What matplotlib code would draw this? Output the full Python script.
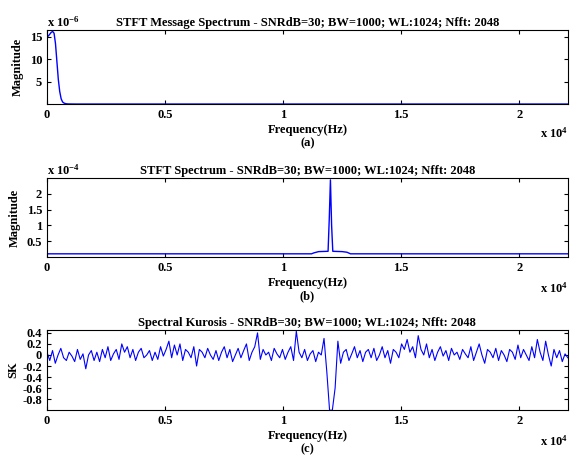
import numpy as np
import matplotlib.pyplot as plt

plt.rcParams['font.family'] = ['Liberation Serif', 'DejaVu Serif']
plt.rcParams['font.weight'] = 'bold'
plt.rcParams['mathtext.default'] = 'regular'

# (a) message spectrum, Hz and magnitude (x 1e-6)
msg_f = [0, 60, 120, 180, 240, 300, 360, 420, 480, 540, 600, 660, 720, 800, 900, 1200, 5000, 22050]
msg_m = [15.0, 15.2, 15.6, 16.0, 16.2, 15.8, 13.5, 9.5, 5.5, 2.8,
         1.2, 0.5, 0.25, 0.1, 0.05, 0.03, 0.03, 0.03]

# (b) STFT spectrum (x 1e-4)
sp_f = [0, 11200, 11300, 11500, 11900, 11950, 12000, 12050, 12100, 12500, 12700, 12850, 22050]
sp_m = [0.1, 0.1, 0.13, 0.17, 0.18, 1.2, 2.45, 1.0, 0.18, 0.17, 0.15, 0.1, 0.1]

# (c) spectral kurtosis (sampled)
sk_vals = [0.05, -0.1, 0.08, -0.15, 0.0, 0.12, -0.05, -0.1, 0.05, -0.02, -0.12, 0.1, -0.08, 0.02, -0.25, 0.0,
           0.08, -0.1, 0.05, -0.12, 0.1, -0.05, 0.15, -0.1, 0.02, 0.1, -0.08, 0.2, 0.05, 0.15, -0.05, 0.1,
           -0.1, 0.05, 0.12, -0.05, 0.0, 0.08, -0.1, 0.05, -0.08, 0.15, -0.02, 0.1, 0.25, -0.05, 0.18, 0.0,
           0.2, -0.1, 0.1, 0.05, -0.05, 0.15, -0.2, 0.1, 0.05, -0.05, 0.12, 0.0, -0.08, 0.08, -0.1, 0.05,
           0.15, -0.05, 0.1, -0.12, 0.0, 0.12, -0.05, 0.08, 0.2, -0.1, 0.05, 0.15, 0.4, -0.08, 0.1, 0.0,
           0.05, -0.1, 0.12, 0.02, -0.05, 0.1, -0.08, 0.05, 0.15, -0.1, 0.43, 0.05, -0.05, 0.1, -0.1, 0.02,
           0.08, -0.12, 0.05, 0.0, 0.3, -0.3, -1.0, -1.0, -0.6, 0.25, -0.15, 0.05, 0.1, -0.1, 0.02, 0.15,
           -0.05, 0.08, -0.12, 0.05, 0.1, -0.05, 0.12, -0.1, 0.0, 0.15, -0.05, 0.08, -0.15, 0.1, 0.05, -0.05,
           0.2, 0.1, 0.28, 0.05, 0.15, -0.05, 0.35, 0.1, 0.0, 0.2, -0.05, 0.1, -0.1, 0.05, 0.15, -0.02,
           0.08, -0.1, 0.12, 0.0, 0.05, -0.08, 0.1, 0.02, -0.05, 0.15, -0.1, 0.05, 0.2, 0.0, -0.15, 0.1,
           0.05, -0.05, 0.12, -0.1, 0.08, 0.0, -0.12, 0.1, 0.05, -0.08, 0.18, -0.05, 0.1, 0.0, -0.1, 0.15,
           -0.05, 0.28, 0.05, -0.1, 0.25, 0.0, -0.2, 0.1, -0.05, 0.08, -0.12, 0.02, -0.05]
sk_f = np.linspace(0, 22050, len(sk_vals))

blue = '#0000ff'
fs = 9
fig = plt.figure(figsize=(5.8, 4.63), dpi=100)
ax1 = fig.add_axes([0.081, 0.775, 0.898, 0.160])
ax2 = fig.add_axes([0.081, 0.445, 0.898, 0.170])
ax3 = fig.add_axes([0.081, 0.114, 0.898, 0.173])

title_tail = ' - SNRdB=30; BW=1000; WL:1024; Nfft: 2048'
ax1.plot(msg_f, msg_m, color=blue, lw=1)
ax1.set_ylim(0, 16.5)
ax1.set_yticks([5, 10, 15])
ax1.set_title('STFT Message Spectrum' + title_tail, fontsize=fs, fontweight='bold', pad=3)
ax1.set_ylabel('Magnitude', fontsize=fs, fontweight='bold')

ax2.plot(sp_f, sp_m, color=blue, lw=1)
ax2.set_ylim(0, 2.5)
ax2.set_yticks([0.5, 1, 1.5, 2])
ax2.set_yticklabels(['0.5', '1', '1.5', '2'])
ax2.set_title('STFT Spectrum' + title_tail, fontsize=fs, fontweight='bold', pad=3)
ax2.set_ylabel('Magnitude', fontsize=fs, fontweight='bold')

ax3.plot(sk_f, sk_vals, color=blue, lw=0.8)
ax3.set_ylim(-1.0, 0.45)
ax3.set_yticks([-0.8, -0.6, -0.4, -0.2, 0, 0.2, 0.4])
ax3.set_yticklabels(['-0.8', '-0.6', '-0.4', '-0.2', '0', '0.2', '0.4'])
ax3.set_title('Spectral Kurosis' + title_tail, fontsize=fs, fontweight='bold', pad=3)
ax3.set_ylabel('SK', fontsize=fs, fontweight='bold', labelpad=2)

for ax, lab in [(ax1, '(a)'), (ax2, '(b)'), (ax3, '(c)')]:
    ax.set_xlim(0, 22050)
    ax.set_xticks([0, 5000, 10000, 15000, 20000])
    ax.set_xticklabels(['0', '0.5', '1', '1.5', '2'])
    ax.tick_params(direction='in', labelsize=fs, top=True, right=True, length=3)
    ax.set_xlabel('Frequency(Hz)\n' + lab, fontsize=fs, fontweight='bold', labelpad=2)
    ax.text(1.0, -0.3, r'x 10$^{4}$', transform=ax.transAxes, ha='right', va='top', fontsize=fs)

ax1.text(0, 1.01, r'x 10$^{-6}$', transform=ax1.transAxes, ha='left', va='bottom', fontsize=fs)
ax2.text(0, 1.01, r'x 10$^{-4}$', transform=ax2.transAxes, ha='left', va='bottom', fontsize=fs)

fig.savefig('out.png', dpi=100)
